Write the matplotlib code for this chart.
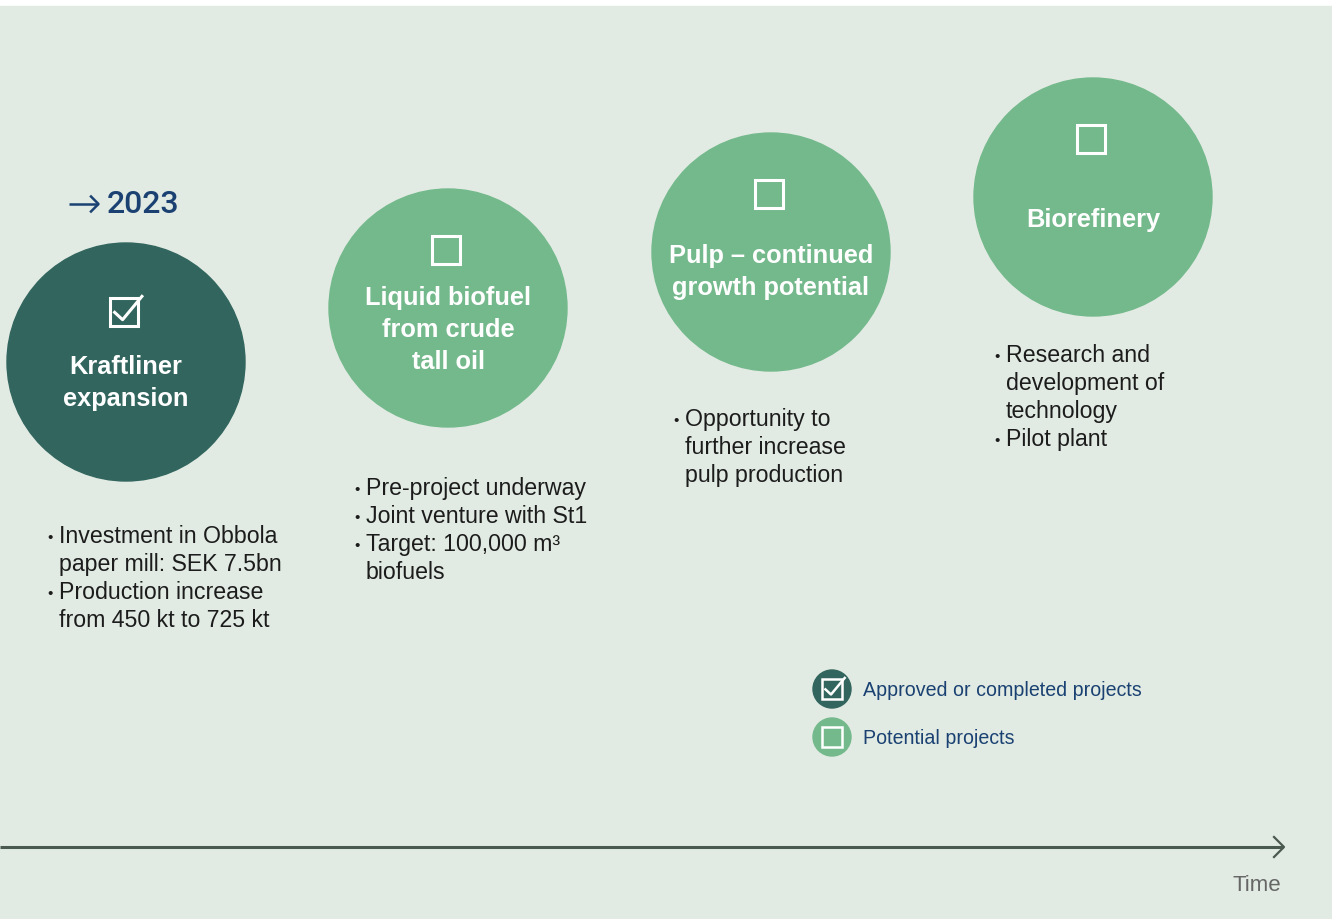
import matplotlib
matplotlib.use("Agg")
import matplotlib.pyplot as plt
from matplotlib.patches import Circle, Rectangle

plt.rcParams['font.family'] = ['Liberation Sans', 'DejaVu Sans']

# ---- data ----
year_label = "2023"
titles = ["Kraftliner\nexpansion",
          "Liquid biofuel\nfrom crude\ntall oil",
          "Pulp \u2013 continued\ngrowth potential",
          "Biorefinery"]
approved = [True, False, False, False]
bullets = [
    [["Investment in Obbola", "paper mill: SEK 7.5bn"],
     ["Production increase", "from 450 kt to 725 kt"]],
    [["Pre-project underway"],
     ["Joint venture with St1"],
     ["Target: 100,000 m\u00b3", "biofuels"]],
    [["Opportunity to", "further increase", "pulp production"]],
    [["Research and", "development of", "technology"],
     ["Pilot plant"]],
]
legend_labels = ["Approved or completed projects", "Potential projects"]
axis_label = "Time"

# ---- layout (pixels) ----
W, H = 1332, 919
centers = [(126, 362), (448, 308), (771, 252), (1093, 197)]
radius = 119
icon_y = [312, 250, 194, 139]
title_base = [374, 305, 263, 227]
bullet_x = [50, 357, 676, 997]
bullet_base = [543, 495, 426, 362]
title_step = 32
line_step = 28

bg = "#e1ebe3"
dark = "#31655e"
light = "#74b98c"
navy = "#1a4172"
ink = "#1c1c1c"

fig = plt.figure(figsize=(W / 100, H / 100), dpi=100, facecolor="white")
ax = fig.add_axes([0, 0, 1, 1])
ax.set_xlim(0, W)
ax.set_ylim(H, 0)
ax.set_aspect("equal")
ax.axis("off")
ax.add_patch(Rectangle((0, 6), W, H - 6, color=bg, zorder=0))


def icon(cx, cy, size, checked, lw):
    h = size / 2
    ax.add_patch(Rectangle((cx - h, cy - h), size, size, fill=False,
                           ec="white", lw=lw, zorder=3))
    if checked:
        ax.plot([cx - h * 0.75, cx - 0.05 * size, cx + h * 1.35],
                [cy - h * 0.05, cy + h * 0.55, cy - h * 1.2],
                color="white", lw=lw, zorder=4, solid_capstyle="butt")


for i, t in enumerate(titles):
    cx, cy = centers[i]
    col = dark if approved[i] else light
    ax.add_patch(Circle((cx, cy), radius, color=col, zorder=1))
    icon(cx - 2, icon_y[i], 28, approved[i], 2.2)
    for k, line in enumerate(t.split("\n")):
        ax.text(cx, title_base[i] + k * title_step, line, color="white",
                fontsize=18.3, fontweight="bold", ha="center", va="baseline",
                zorder=5)
    y = bullet_base[i]
    for item in bullets[i]:
        for k, line in enumerate(item):
            if k == 0:
                ax.text(bullet_x[i], y - 1, "\u2022", color=ink, fontsize=11,
                        ha="center", va="baseline")
            ax.text(bullet_x[i] + 9, y, line, color=ink, fontsize=16.7,
                    ha="left", va="baseline")
            y += line_step

# "-> 2023" header
ax.plot([69, 98], [204, 204], color=navy, lw=1.8, solid_capstyle="butt")
ax.plot([91, 98.5, 91], [196.5, 204, 211.5], color=navy, lw=1.8)
ax.text(107, 213, year_label, color=navy, fontsize=23, fontweight=500,
        ha="left", va="baseline", family=["Roboto", "Liberation Sans"])

# legend
for j, lab in enumerate(legend_labels):
    ly = 689 + 48 * j
    ax.add_patch(Circle((832, ly), 19, color=dark if j == 0 else light,
                        zorder=1))
    icon(832, ly, 20, j == 0, 1.8)
    ax.text(863, ly + 7, lab, color=navy, fontsize=14.1, ha="left",
            va="baseline")

# time axis
ax.plot([0, 1283], [847, 847], color="#4b5a50", lw=2.2, zorder=2,
        solid_capstyle="butt")
ax.plot([1274, 1284, 1274], [837, 847, 857], color="#4b5a50", lw=1.6,
        zorder=2)
ax.text(1281, 891, axis_label, color="#666666", fontsize=16, ha="right",
        va="baseline")

fig.savefig("out.png", dpi=100, facecolor="white")
